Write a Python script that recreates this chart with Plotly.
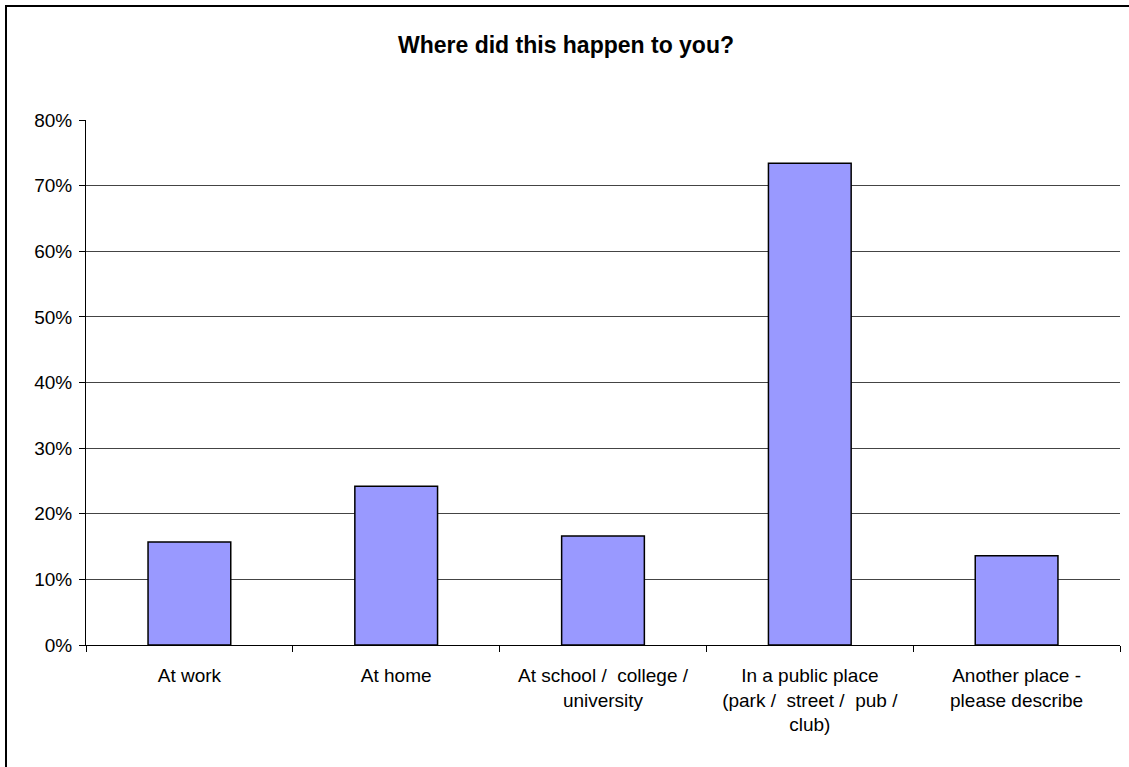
import plotly.graph_objects as go

categories = [
    "At work",
    "At home",
    "At school /  college /<br>university",
    "In a public place<br>(park /  street /  pub /<br>club)",
    "Another place -<br>please describe",
]
values = [0.157, 0.242, 0.166, 0.734, 0.136]
y_ticks = [0, 0.1, 0.2, 0.3, 0.4, 0.5, 0.6, 0.7, 0.8]
title_text = "Where did this happen to you?"

W, H = 1129, 767
L, R, T, B = 86, 9, 120, 121.5
pw = W - L - R
ph = H - T - B
FONT = "Liberation Sans, Arial, sans-serif"

fig = go.Figure(
    go.Bar(
        x=categories,
        y=values,
        width=0.4,
        marker=dict(color="#9999FF", line=dict(color="black", width=1.5)),
        hoverinfo="x+y",
    )
)

fig.update_layout(
    width=W,
    height=H,
    margin=dict(l=L, r=R, t=T, b=B),
    paper_bgcolor="white",
    plot_bgcolor="white",
    font=dict(family=FONT, size=19, color="black"),
    title=dict(
        text="<b>" + title_text + "</b>",
        x=566 / W,
        xref="container",
        xanchor="center",
        y=1 - 45 / H,
        yref="container",
        yanchor="middle",
        font=dict(size=23, family=FONT, color="black"),
    ),
    showlegend=False,
    shapes=[
        dict(
            type="rect",
            xref="paper",
            yref="paper",
            x0=(6 - L) / pw,
            x1=1.2,
            y0=-0.4,
            y1=1 + (T - 6) / ph,
            line=dict(color="black", width=2),
            fillcolor="rgba(0,0,0,0)",
            layer="above",
        )
    ],
)

fig.update_xaxes(
    showline=True,
    linecolor="black",
    linewidth=1,
    ticks="outside",
    tickson="boundaries",
    ticklen=6,
    tickcolor="black",
    showgrid=False,
    ticklabelstandoff=13,
    tickfont=dict(size=19, family=FONT),
)
fig.update_yaxes(
    range=[0, 0.8],
    tickvals=y_ticks,
    tickformat=".0%",
    showline=True,
    linecolor="black",
    linewidth=1,
    ticks="outside",
    ticklen=6,
    tickcolor="black",
    showgrid=True,
    gridcolor="#444444",
    gridwidth=1,
    zeroline=False,
    ticklabelstandoff=3,
    tickfont=dict(size=19, family=FONT),
)

fig.write_html(
    "out.html",
    config={"displayModeBar": False},
    post_script="document.body.style.margin='0';",
)
